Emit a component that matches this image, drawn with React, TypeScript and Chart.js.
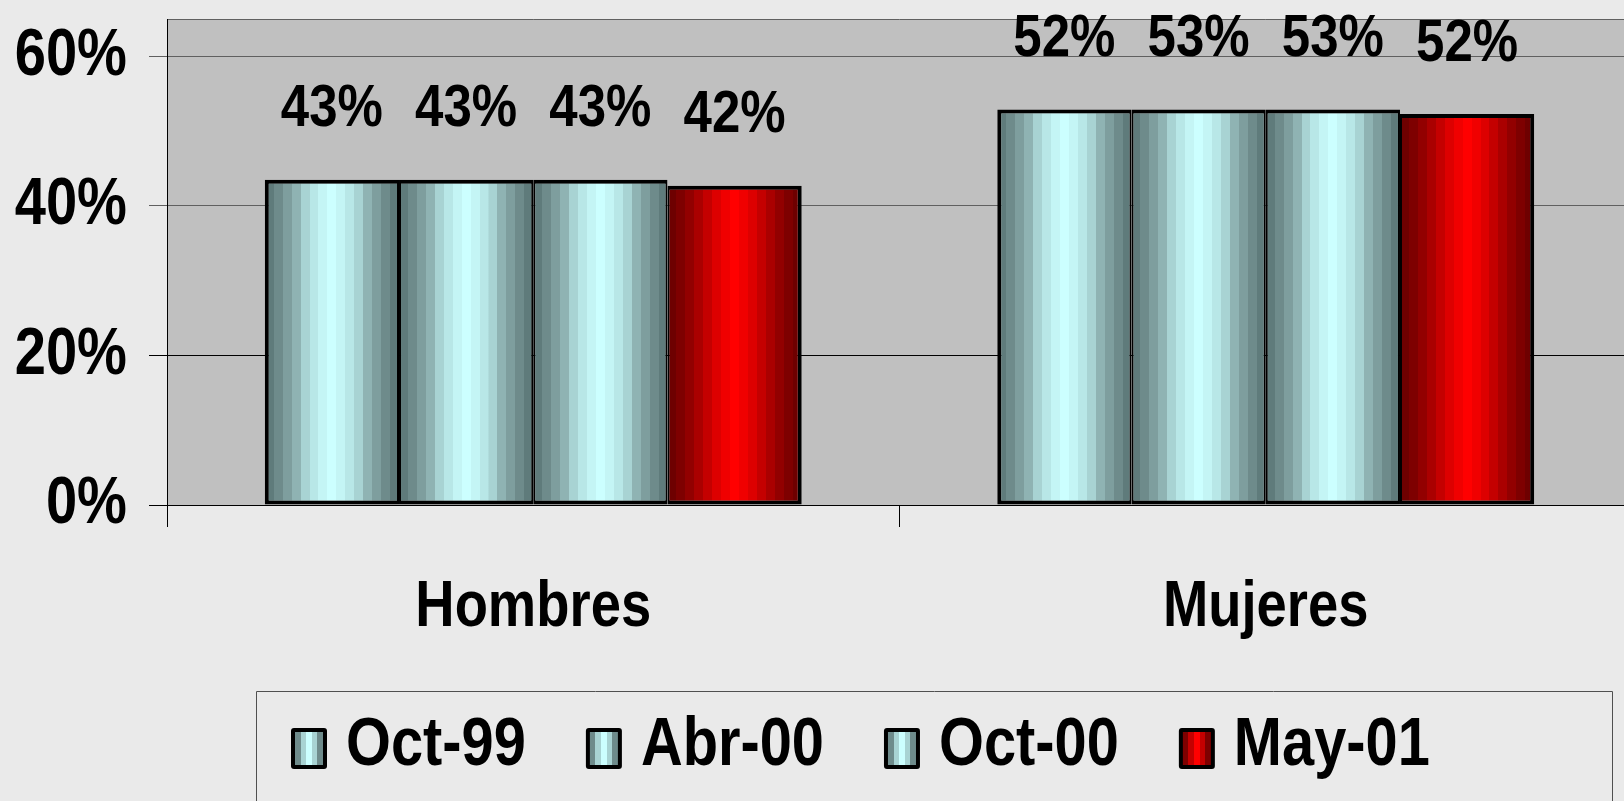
import React, { useEffect, useRef } from "react";
import { Chart, registerables } from "chart.js";

Chart.register(...registerables);

const categories = ["Hombres", "Mujeres"];
const seriesNames = ["Oct-99", "Abr-00", "Oct-00", "May-01"];
const oct99 = [43.5, 52.9];
const abr00 = [43.5, 52.9];
const oct00 = [43.5, 52.9];
const may01 = [42.7, 52.3];
const oct99Labels = ["43%", "52%"];
const abr00Labels = ["43%", "53%"];
const oct00Labels = ["43%", "53%"];
const may01Labels = ["42%", "52%"];
const yTicks = [0, 20, 40, 60];

const FONT = "'Liberation Sans', Arial, sans-serif";
const SX = 0.85; // horizontal condensing (narrow bold face)
const BG = "#EAEAEA";
const PLOT_BG = "#C0C0C0";

const TEAL_BANDS = ["#5f7b7b", "#6e8b8b", "#7e9e9e", "#8fb3b3", "#a8d3d3", "#b8e7e7", "#c4f5f5", "#ccffff", "#c4f5f5", "#b8e7e7", "#a8d3d3", "#8fb3b3", "#7e9e9e", "#6e8b8b", "#5f7b7b"];
const RED_BANDS = ["#6e0000", "#7e0000", "#920000", "#aa0000", "#c40000", "#dd0000", "#f00000", "#ff0000", "#f00000", "#dd0000", "#c40000", "#aa0000", "#920000", "#7e0000", "#6e0000"];

function bandGradient(ctx: CanvasRenderingContext2D, x0: number, x1: number, bands: string[]) {
  const g = ctx.createLinearGradient(x0, 0, x1, 0);
  const n = bands.length;
  bands.forEach((c, i) => {
    g.addColorStop(i / n, c);
    g.addColorStop(Math.min(1, (i + 1) / n - 0.0001), c);
  });
  return g;
}

function narrowText(
  ctx: CanvasRenderingContext2D,
  text: string,
  x: number,
  y: number,
  size: number,
  align: CanvasTextAlign,
  baseline: CanvasTextBaseline
) {
  ctx.save();
  ctx.font = `bold ${size}px ${FONT}`;
  ctx.fillStyle = "#000";
  ctx.textAlign = align;
  ctx.textBaseline = baseline;
  ctx.translate(x, y);
  ctx.scale(SX, 1);
  ctx.fillText(text, 0, 0);
  const w = ctx.measureText(text).width * SX;
  ctx.restore();
  return w;
}

const plotBgPlugin = {
  id: "plotBg",
  beforeDraw(chart: any) {
    const { ctx, chartArea: a } = chart;
    ctx.save();
    ctx.fillStyle = PLOT_BG;
    ctx.fillRect(a.left, a.top, a.right - a.left, a.bottom - a.top);
    ctx.strokeStyle = "#606060";
    ctx.lineWidth = 1;
    ctx.beginPath();
    ctx.moveTo(a.left, a.top + 0.5);
    ctx.lineTo(a.right, a.top + 0.5);
    ctx.stroke();
    ctx.restore();
  },
};

const gradientPlugin = {
  id: "barGradient",
  beforeDatasetsDraw(chart: any) {
    const ctx = chart.ctx;
    chart.data.datasets.forEach((ds: any, di: number) => {
      const meta = chart.getDatasetMeta(di);
      meta.data.forEach((el: any) => {
        const x0 = el.x - el.width / 2;
        const x1 = el.x + el.width / 2;
        el.options.backgroundColor = bandGradient(ctx, x0, x1, ds.bands);
      });
    });
  },
};

const axisTextPlugin = {
  id: "axisText",
  afterDraw(chart: any) {
    const ctx = chart.ctx;
    const ys = chart.scales.y;
    ys.ticks.forEach((t: any) => {
      narrowText(ctx, t.value + "%", ys.right - 40, ys.getPixelForValue(t.value), 66, "right", "middle");
    });
    const xs = chart.scales.x;
    categories.forEach((c, i) => {
      narrowText(ctx, c, xs.getPixelForValue(i), xs.top + 103, 64, "center", "middle");
    });
  },
};

const valueLabelPlugin = {
  id: "valueLabels",
  afterDatasetsDraw(chart: any) {
    const ctx = chart.ctx;
    chart.data.datasets.forEach((ds: any, di: number) => {
      const meta = chart.getDatasetMeta(di);
      meta.data.forEach((el: any, i: number) => {
        narrowText(ctx, ds.valueLabels[i], el.x, el.y - 70, 60, "center", "middle");
      });
    });
  },
};

const legendBoxPlugin = {
  id: "legendBox",
  afterDraw(chart: any) {
    const ctx = chart.ctx;
    const left = 256;
    const top = 691;
    const right = 1612;
    ctx.save();
    ctx.strokeStyle = "#505050";
    ctx.lineWidth = 1;
    ctx.beginPath();
    ctx.moveTo(left + 0.5, chart.height + 5);
    ctx.lineTo(left + 0.5, top + 0.5);
    ctx.lineTo(right + 0.5, top + 0.5);
    ctx.lineTo(right + 0.5, chart.height + 5);
    ctx.stroke();
    ctx.restore();

    let x = 291;
    const mW = 36;
    const mH = 41;
    const mY = 728;
    chart.data.datasets.forEach((ds: any) => {
      ctx.save();
      ctx.fillStyle = "#000";
      ctx.beginPath();
      (ctx as any).roundRect ? (ctx as any).roundRect(x, mY, mW, mH, 3) : ctx.rect(x, mY, mW, mH);
      ctx.fill();
      const ix0 = x + 4;
      const ix1 = x + mW - 4;
      const small = ds.bands.filter((_: string, i: number) => i % 3 === 1 || i === 7);
      ctx.fillStyle = bandGradient(ctx, ix0, ix1, small);
      ctx.fillRect(ix0, mY + 4, ix1 - ix0, mH - 8);
      ctx.restore();
      const tx = x + mW + 19;
      const w = narrowText(ctx, ds.label, tx, 765, 68, "left", "alphabetic");
      x = tx + w + 60;
    });
  },
};

export default function App() {
  const ref = useRef<HTMLCanvasElement | null>(null);

  useEffect(() => {
    const canvas = ref.current;
    if (!canvas) return;
    const series = [oct99, abr00, oct00, may01];
    const labelSets = [oct99Labels, abr00Labels, oct00Labels, may01Labels];
    const chart = new Chart(canvas, {
      type: "bar",
      data: {
        labels: categories,
        datasets: series.map((d, i) => ({
          label: seriesNames[i],
          data: d,
          valueLabels: labelSets[i],
          bands: i === 3 ? RED_BANDS : TEAL_BANDS,
          backgroundColor: () => (i === 3 ? "#ff0000" : "#ccffff"),
          borderColor: "#000",
          borderWidth: { top: 4, left: i === 0 ? 4 : 2, right: i === 3 ? 4 : 2, bottom: 4 },
          borderSkipped: false,
          categoryPercentage: 0.733,
          barPercentage: 1,
        })) as any,
      },
      options: {
        animation: false,
        responsive: false,
        devicePixelRatio: 1,
        layout: { padding: { top: 19, left: 0, right: 0, bottom: 0 } },
        plugins: {
          legend: { display: false },
          tooltip: { enabled: false },
          title: { display: false },
        },
        scales: {
          x: {
            type: "category",
            offset: true,
            grid: {
              display: true,
              offset: true,
              drawOnChartArea: false,
              drawTicks: true,
              tickLength: 22,
              color: "#000",
              lineWidth: 1,
            },
            border: { display: true, color: "#000", width: 1 },
            ticks: { display: false },
            afterFit: (s: any) => {
              s.height = 296;
            },
          },
          y: {
            min: 0,
            max: 65,
            afterBuildTicks: (s: any) => {
              s.ticks = yTicks.map((v) => ({ value: v }));
            },
            grid: {
              display: true,
              drawTicks: true,
              tickLength: 18,
              color: (c: any) => (c.tick && c.tick.value >= 40 ? "#606060" : "#000"),
              lineWidth: 1,
            },
            border: { display: true, color: "#000", width: 1 },
            ticks: { display: false },
            afterFit: (s: any) => {
              s.width = 167;
            },
          },
        },
      },
      plugins: [plotBgPlugin, gradientPlugin, valueLabelPlugin, axisTextPlugin, legendBoxPlugin],
    });
    return () => chart.destroy();
  }, []);

  return (
    <div
      style={{
        position: "fixed",
        left: 0,
        top: 0,
        width: 1624,
        height: 801,
        background: BG,
        overflow: "hidden",
      }}
    >
      <canvas ref={ref} width={1632} height={801} style={{ display: "block" }} />
    </div>
  );
}
